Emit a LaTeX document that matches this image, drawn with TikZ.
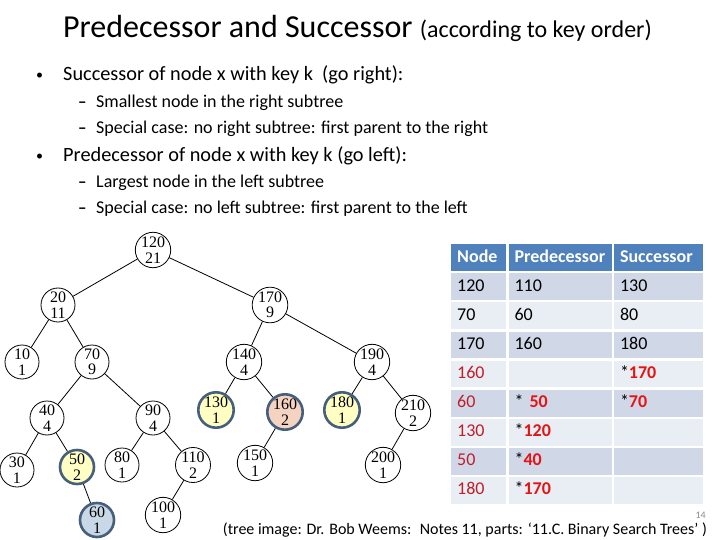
\documentclass[tikz,border=0pt]{standalone}
\usepackage{fontspec}
\setmainfont{Carlito}
\newfontfamily\treefont{Liberation Serif}
\usepackage{xcolor}
\usepackage{tikz}
\usetikzlibrary{positioning}
\definecolor{headblue}{RGB}{79,129,189}
\definecolor{rowdark}{RGB}{208,216,232}
\definecolor{rowlight}{RGB}{233,237,244}
\definecolor{ringblue}{RGB}{70,95,125}
\definecolor{markyellow}{RGB}{255,255,196}
\definecolor{markpeach}{RGB}{244,211,192}
\definecolor{markblue}{RGB}{200,216,230}
\definecolor{keyred}{RGB}{192,30,40}
\definecolor{hotred}{RGB}{228,20,20}
\newcommand{\hotval}[1]{*\textcolor{hotred}{\bfseries #1}}
\tikzstyle{bst} = [circle, draw=black, line width=0.8pt, minimum size=34pt, inner sep=0pt, align=center, font=\treefont\fontsize{16}{15.5}\selectfont]
\tikzstyle{marked} = [bst, line width=2.6pt, draw=ringblue]
\tikzstyle{edge} = [line width=0.8pt]
\tikzstyle{cell} = [rectangle, minimum height=26.8pt, inner xsep=6pt, inner ysep=0pt, align=left, text height=12.5pt, text depth=3.5pt, font=\fontsize{18}{20}\selectfont]
\tikzstyle{head} = [cell, fill=headblue, text=white, font=\bfseries\fontsize{18}{20}\selectfont]
\tikzstyle{txt} = [anchor=base west, inner sep=0pt]

\begin{document}
\begin{tikzpicture}[x=1pt, y=-1pt, node distance=2pt]
  \useasboundingbox (0,0) rectangle (720,540);
  % title and bullets
  \node (title) [txt] at (63,38) {\fontsize{32}{36}\selectfont Predecessor and Successor \fontsize{24}{27}\selectfont(according to key order)};
  \node (b1) [txt] at (36,80) {\fontsize{14}{16}\selectfont\textbullet};
  \node (t1) [txt] at (63,81) {\fontsize{20.3}{24}\selectfont Successor of node x with key k~ (go right):};
  \node (d11) [txt] at (78,108) {\fontsize{17}{20}\selectfont\bfseries --};
  \node (t11) [txt] at (96,108) {\fontsize{18}{20}\selectfont Smallest node in the right subtree};
  \node (d12) [txt] at (78,134) {\fontsize{17}{20}\selectfont\bfseries --};
  \node (t12) [txt] at (96,134) {\fontsize{18}{20}\selectfont Special case: no right subtree: first parent to the right};
  \node (b2) [txt] at (36,161) {\fontsize{14}{16}\selectfont\textbullet};
  \node (t2) [txt] at (63,162) {\fontsize{20.3}{24}\selectfont Predecessor of node x with key k (go left):};
  \node (d21) [txt] at (78,188) {\fontsize{17}{20}\selectfont\bfseries --};
  \node (t21) [txt] at (96,188) {\fontsize{18}{20}\selectfont Largest node in the left subtree};
  \node (d22) [txt] at (78,214) {\fontsize{17}{20}\selectfont\bfseries --};
  \node (t22) [txt] at (96,214) {\fontsize{18}{20}\selectfont Special case: no left subtree: first parent to the left};

  % tree
  \node (k120) [bst] at (153,250) {120\\21};
  \node (k20)  [bst] at (58,305)  {20\\11};
  \node (k170) [bst] at (270,305) {170\\9};
  \node (k10)  [bst] at (22,362)  {10\\1};
  \node (k70)  [bst] at (92,362)  {70\\9};
  \node (k140) [bst] at (244,362) {140\\4};
  \node (k190) [bst] at (372,362) {190\\4};
  \node (k40)  [bst] at (47,418)  {40\\4};
  \node (k90)  [bst] at (153,418) {90\\4};
  \node (k130) [marked, fill=markyellow] at (216,410) {130\\1};
  \node (k160) [marked, fill=markpeach] at (285,412) {160\\2};
  \node (k180) [marked, fill=markyellow] at (342,410) {180\\1};
  \node (k210) [bst] at (413,413) {210\\2};
  \node (k30)  [bst] at (17,470)  {30\\1};
  \node (k50)  [marked, fill=markyellow] at (77,467) {50\\2};
  \node (k80)  [bst] at (122,465) {80\\1};
  \node (k110) [bst] at (193,465) {110\\2};
  \node (k150) [bst] at (255,463) {150\\1};
  \node (k200) [bst] at (383,465) {200\\1};
  \node (k60)  [marked, fill=markblue] at (97,520) {60\\1};
  \node (k100) [bst] at (163,515) {100\\1};
  \draw[edge] (k120) -- (k20);
  \draw[edge] (k120) -- (k170);
  \draw[edge] (k20) -- (k10);
  \draw[edge] (k20) -- (k70);
  \draw[edge] (k70) -- (k40);
  \draw[edge] (k70) -- (k90);
  \draw[edge] (k40) -- (k30);
  \draw[edge] (k40) -- (k50);
  \draw[edge] (k50) -- (k60);
  \draw[edge] (k90) -- (k80);
  \draw[edge] (k90) -- (k110);
  \draw[edge] (k110) -- (k100);
  \draw[edge] (k170) -- (k140);
  \draw[edge] (k170) -- (k190);
  \draw[edge] (k140) -- (k130);
  \draw[edge] (k140) -- (k160);
  \draw[edge] (k160) -- (k150);
  \draw[edge] (k190) -- (k180);
  \draw[edge] (k190) -- (k210);
  \draw[edge] (k210) -- (k200);

  % table
  \node (hnode) [head, text width=43pt, anchor=north west] at (451,244) {Node};
  \node (hpred) [head, text width=91pt, right=of hnode] {Predecessor};
  \node (hsucc) [head, text width=77pt, right=of hpred] {Successor};
  \node (n1) [cell, fill=rowdark, text width=43pt, below=1.9pt of hnode] {120};
  \node (p1) [cell, fill=rowdark, text width=91pt, right=of n1] {110};
  \node (s1) [cell, fill=rowdark, text width=77pt, right=of p1] {130};
  \node (n2) [cell, fill=rowlight, text width=43pt, below=1.9pt of n1] {70};
  \node (p2) [cell, fill=rowlight, text width=91pt, right=of n2] {60};
  \node (s2) [cell, fill=rowlight, text width=77pt, right=of p2] {80};
  \node (n3) [cell, fill=rowdark, text width=43pt, below=1.9pt of n2] {170};
  \node (p3) [cell, fill=rowdark, text width=91pt, right=of n3] {160};
  \node (s3) [cell, fill=rowdark, text width=77pt, right=of p3] {180};
  \node (n4) [cell, fill=rowlight, text width=43pt, text=keyred, below=1.9pt of n3] {160};
  \node (p4) [cell, fill=rowlight, text width=91pt, right=of n4] {};
  \node (s4) [cell, fill=rowlight, text width=77pt, right=of p4] {\hotval{170}};
  \node (n5) [cell, fill=rowdark, text width=43pt, text=keyred, below=1.9pt of n4] {60};
  \node (p5) [cell, fill=rowdark, text width=91pt, right=of n5] {* \textcolor{hotred}{\bfseries 50}};
  \node (s5) [cell, fill=rowdark, text width=77pt, right=of p5] {\hotval{70}};
  \node (n6) [cell, fill=rowlight, text width=43pt, text=keyred, below=1.9pt of n5] {130};
  \node (p6) [cell, fill=rowlight, text width=91pt, right=of n6] {\hotval{120}};
  \node (s6) [cell, fill=rowlight, text width=77pt, right=of p6] {};
  \node (n7) [cell, fill=rowdark, text width=43pt, text=keyred, below=1.9pt of n6] {50};
  \node (p7) [cell, fill=rowdark, text width=91pt, right=of n7] {\hotval{40}};
  \node (s7) [cell, fill=rowdark, text width=77pt, right=of p7] {};
  \node (n8) [cell, fill=rowlight, text width=43pt, text=keyred, below=1.9pt of n7] {180};
  \node (p8) [cell, fill=rowlight, text width=91pt, right=of n8] {\hotval{170}};
  \node (s8) [cell, fill=rowlight, text width=77pt, right=of p8] {};

  % footer
  \node (page) [anchor=base east, inner sep=0pt, text=black!45] at (706,518) {\fontsize{10}{11}\selectfont 14};
  \node (credit) [anchor=base east, inner sep=0pt] at (707,534) {\fontsize{16}{18}\selectfont (tree image: Dr. Bob Weems:~ Notes 11, parts: `11.C. Binary Search Trees' )};
\end{tikzpicture}
\end{document}
